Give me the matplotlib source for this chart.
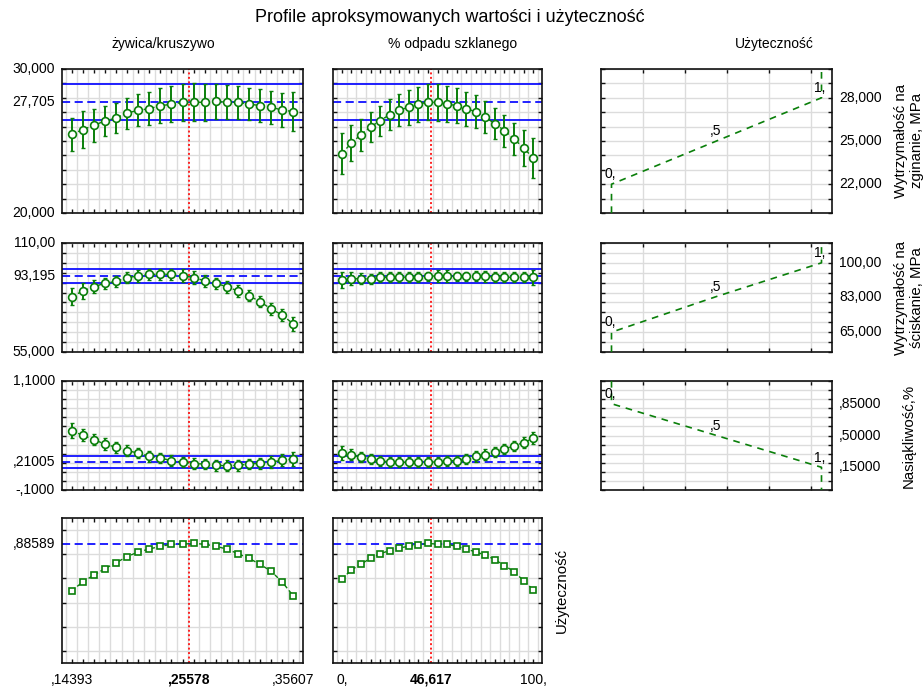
import numpy as np
import matplotlib
matplotlib.use("Agg")
import matplotlib.pyplot as plt

plt.rcParams['font.family'] = ['Liberation Sans', 'DejaVu Sans']

# ---------------------------------------------------------------- data
n_levels = 21
resin_min, resin_max, resin_now = 0.14393, 0.35607, 0.25578
glass_min, glass_max, glass_now = 0.0, 100.0, 46.617
resin_levels = np.linspace(resin_min, resin_max, n_levels)
glass_levels = np.linspace(glass_min, glass_max, n_levels)

# flexural strength, MPa
flex_vs_resin = [25463, 25787, 26088, 26389, 26597, 26944, 27130, 27245, 27454, 27546, 27685,
                 27690, 27690, 27755, 27690, 27685, 27569, 27454, 27338, 27153, 27037]
flex_err_resin = [1157, 1273, 1130, 1065, 1040, 1076, 1123, 1134, 1227, 1250, 1273,
                  1308, 1285, 1215, 1192, 1169, 1134, 1157, 1134, 1203, 1377]
flex_vs_glass = [24120, 24861, 25440, 25972, 26412, 26829, 27153, 27338, 27569, 27685, 27685,
                 27569, 27454, 27245, 27037, 26644, 26204, 25718, 25139, 24514, 23819]
flex_err_glass = [1412, 1238, 1111, 1065, 1053, 1088, 1134, 1204, 1215, 1250, 1273,
                  1273, 1215, 1192, 1157, 1100, 1076, 1100, 1100, 1227, 1412]
flex_now, flex_ci = 27705, 1280

# compressive strength, MPa
comp_vs_resin = [82.92, 85.78, 87.97, 89.65, 90.66, 92.51, 93.35, 94.19, 94.19, 94.19, 93.52,
                 92.51, 90.99, 89.65, 87.97, 85.78, 83.43, 80.40, 76.70, 73.67, 69.13]
comp_err_resin = [4.2, 3.95, 3.36, 2.94, 2.78, 2.78, 2.78, 2.94, 2.94, 2.78, 3.36,
                  3.2, 2.94, 2.69, 3.03, 2.94, 2.94, 2.78, 2.94, 3.03, 3.78]
comp_vs_glass = [91.33, 91.95, 92.0, 91.8, 92.6, 92.7, 92.7, 92.75, 92.8, 93.3, 93.35,
                 93.35, 93.3, 93.3, 93.3, 93.25, 92.75, 92.7, 92.7, 92.68, 92.68]
comp_err_glass = [4.2, 3.28, 2.94, 2.35, 2.52, 2.44, 2.52, 2.52, 2.44, 2.27, 2.78,
                  2.78, 2.27, 2.27, 2.61, 2.69, 2.52, 2.52, 2.52, 2.52, 3.78]
comp_now, comp_ci = 93.195, 3.6

# water absorption, %
abs_vs_resin = [0.553, 0.502, 0.454, 0.406, 0.370, 0.333, 0.307, 0.271, 0.252, 0.223, 0.208,
                0.190, 0.186, 0.171, 0.168, 0.171, 0.186, 0.194, 0.208, 0.227, 0.241]
abs_err_resin = [0.083, 0.068, 0.064, 0.061, 0.061, 0.059, 0.055, 0.059, 0.059, 0.061, 0.059,
                 0.061, 0.057, 0.059, 0.061, 0.059, 0.057, 0.059, 0.062, 0.064, 0.075]
abs_vs_glass = [0.307, 0.289, 0.260, 0.238, 0.223, 0.208, 0.205, 0.205, 0.208, 0.208, 0.208,
                0.223, 0.223, 0.238, 0.271, 0.289, 0.322, 0.351, 0.388, 0.421, 0.469]
abs_err_glass = [0.073, 0.061, 0.057, 0.055, 0.055, 0.051, 0.055, 0.055, 0.051, 0.051, 0.051,
                 0.055, 0.055, 0.055, 0.059, 0.059, 0.055, 0.055, 0.055, 0.061, 0.066]
abs_now, abs_ci = 0.21005, 0.066

# overall desirability
des_vs_resin = [0.499, 0.570, 0.628, 0.681, 0.730, 0.780, 0.819, 0.843, 0.866, 0.882, 0.884,
                0.889, 0.883, 0.866, 0.843, 0.805, 0.766, 0.717, 0.659, 0.570, 0.455]
des_vs_glass = [0.595, 0.670, 0.719, 0.766, 0.805, 0.830, 0.852, 0.866, 0.880, 0.889, 0.884,
                0.882, 0.866, 0.843, 0.819, 0.794, 0.755, 0.706, 0.656, 0.581, 0.507]
des_now = 0.88589

# desirability settings (value for d = 0, d = 0.5, d = 1)
flex_spec = [22000, 25000, 28000]
comp_spec = [65, 83, 100]
abs_spec = [0.85, 0.50, 0.15]
spec_labels = [["22,000", "25,000", "28,000"],
               ["65,000", "83,000", "100,00"],
               [",85000", ",50000", ",15000"]]
d_levels = [0.0, 0.5, 1.0]
d_labels = ["0,", ",5", "1,"]

# axis ranges and tick text
y_ranges = [(20000, 30000, 1000), (55, 110, 5), (-0.1, 1.1, 0.1), (-0.1, 1.1, 0.2)]
y_labels = [["30,000", "27,705", "20,000"],
            ["110,00", "93,195", "55,000"],
            ["1,1000", ",21005", "-,1000"],
            [",88589"]]
resin_tick_labels = [",14393", ",25578", ",35607"]
glass_tick_labels = ["0,", "46,617", "100,"]

title = "Profile aproksymowanych wartości i użyteczność"
col_titles = ["żywica/kruszywo", "% odpadu szklanego", "Użyteczność"]
resp_names = ["Wytrzymałość na\nzginanie, MPa", "Wytrzymałość na\nściskanie, MPa", "Nasiąkliwość,%"]
des_name = "Użyteczność"

# ---------------------------------------------------------------- style
GREEN = "#0a7f0a"
BLUE = "#1010ff"
RED = "#ff2020"
GRID = "#dcdcdc"
FS = 10

W, H = 923, 688
fig = plt.figure(figsize=(W / 100, H / 100), dpi=100)


def px_axes(x0, x1, y0, y1):
    return fig.add_axes([x0 / W, 1 - y1 / H, (x1 - x0) / W, (y1 - y0) / H])


col_px = [(62, 303), (333, 542), (601, 832)]
row_px = [(69, 213), (243, 352), (381, 490), (518, 663)]


def frame(ax):
    for s in ax.spines.values():
        s.set_linewidth(1.2)
        s.set_color("#111111")
    ax.tick_params(which="both", direction="in", top=True, right=True,
                   labelleft=False, labelbottom=False, length=3, width=1, color="#111111")
    ax.set_axisbelow(True)


def y_grid(ax, r):
    lo, hi, step = y_ranges[r]
    if r == 3:
        ticks = np.arange(0.0, 1.0001, step)
    else:
        ticks = np.arange(lo, hi + step / 2, step)
    ax.set_ylim(lo, hi)
    ax.set_yticks(ticks)
    ax.grid(True, which="major", axis="y", color=GRID, lw=1)


def left_label(ax, y, text):
    ax.annotate(text, xy=(0, y), xycoords=("axes fraction", "data"), xytext=(-5, 0),
                textcoords="offset points", ha="right", va="center", fontsize=FS)


def profile_panel(r, c, levels, now, vals, errs, now_val, ci, pad):
    x0, x1 = col_px[c]
    y0, y1 = row_px[r]
    ax = px_axes(x0, x1, y0, y1)
    frame(ax)
    span = levels[-1] - levels[0]
    step = levels[1] - levels[0]
    ax.set_xlim(levels[0] - pad * span, levels[-1] + pad * span)
    ax.set_xticks(levels)
    ax.set_xticks(np.append(levels - step / 2, levels[-1] + step / 2), minor=True)
    ax.tick_params(axis="x", which="minor", length=0)
    ax.grid(True, which="minor", axis="x", color=GRID, lw=1)
    y_grid(ax, r)
    if ci is not None:
        ax.axhline(now_val + ci, color=BLUE, lw=1.3, zorder=2)
        ax.axhline(now_val - ci, color=BLUE, lw=1.3, zorder=2)
    ax.axhline(now_val, color=BLUE, lw=1.3, ls=(0, (4.5, 2.5)), zorder=2)
    ax.axvline(now, color=RED, lw=1.4, ls=(0, (1, 1.3)), zorder=2)
    if errs is not None:
        ax.plot(levels, vals, color=GREEN, lw=1.0, ls=(0, (3, 2)), zorder=3)
        ax.errorbar(levels, vals, yerr=errs, fmt="none", ecolor=GREEN, elinewidth=1.4,
                    capsize=1.6, capthick=1.0, zorder=4)
        ax.plot(levels, vals, ls="none", marker="o", ms=5.6, mfc="white", mec=GREEN,
                mew=1.2, zorder=5)
    else:
        ax.plot(levels, vals, color=GREEN, lw=1.0, ls=(0, (3, 2)), zorder=3)
        ax.plot(levels, vals, ls="none", marker="s", ms=5.0, mfc="white", mec=GREEN,
                mew=1.2, zorder=5)
    return ax


profiles = [
    (flex_vs_resin, flex_err_resin, flex_vs_glass, flex_err_glass, flex_now, flex_ci),
    (comp_vs_resin, comp_err_resin, comp_vs_glass, comp_err_glass, comp_now, comp_ci),
    (abs_vs_resin, abs_err_resin, abs_vs_glass, abs_err_glass, abs_now, abs_ci),
    (des_vs_resin, None, des_vs_glass, None, des_now, None),
]

for r, (vr, er, vg, eg, now_val, ci) in enumerate(profiles):
    axl = profile_panel(r, 0, resin_levels, resin_now, vr, er, now_val, ci, 0.0437)
    axm = profile_panel(r, 1, glass_levels, glass_now, vg, eg, now_val, ci, 0.046)
    lo, hi, _ = y_ranges[r]
    if r < 3:
        for yv, txt in zip([hi, now_val, lo], y_labels[r]):
            left_label(axl, yv, txt)
    else:
        left_label(axl, now_val, y_labels[r][0])
        for ax, xs, labs in ((axl, [resin_min, resin_now, resin_max], resin_tick_labels),
                             (axm, [glass_min, glass_now, glass_max], glass_tick_labels)):
            for k, (xv, txt) in enumerate(zip(xs, labs)):
                ax.annotate(txt, xy=(xv, 0), xycoords=("data", "axes fraction"),
                            xytext=(0, -12), textcoords="offset points", ha="center",
                            va="center", fontsize=FS,
                            fontweight="bold" if k == 1 else "normal")

# desirability functions of each response
specs = [flex_spec, comp_spec, abs_spec]
for r, spec in enumerate(specs):
    x0, x1 = col_px[2]
    y0, y1 = row_px[r]
    ax = px_axes(x0, x1, y0, y1)
    frame(ax)
    ax.set_xlim(-0.05, 1.05)
    ax.set_xticks([0.15, 0.35, 0.55, 0.75, 0.95])
    ax.grid(True, which="major", axis="x", color=GRID, lw=1)
    y_grid(ax, r)
    lo, hi, _ = y_ranges[r]
    start = lo if spec[2] > spec[0] else hi
    end = hi if spec[2] > spec[0] else lo
    ax.plot([0, 0] + d_levels[1:] + [1], [start] + spec + [end], color=GREEN, lw=1.2,
            ls=(0, (4, 3.5)), zorder=3)
    for dv, sv, txt in zip(d_levels, spec, d_labels):
        ax.annotate(txt, xy=(dv, sv), xytext=(-1, 7), textcoords="offset points",
                    ha="center", va="center", fontsize=FS)
    for sv, txt in zip(spec, spec_labels[r]):
        ax.annotate(txt, xy=(1, sv), xycoords=("axes fraction", "data"), xytext=(5, 0),
                    textcoords="offset points", ha="left", va="center", fontsize=FS)
    yc = (y0 + y1) / 2
    fig.text(909 / W, 1 - yc / H, resp_names[r], rotation=90, ha="center", va="center",
             fontsize=FS + 0.8, linespacing=1.15)

# titles
fig.text(450 / W, 1 - 17 / H, title, ha="center", va="center", fontsize=13)
for xc, txt in zip([163, 453, 774], col_titles):
    fig.text(xc / W, 1 - 44 / H, txt, ha="center", va="center", fontsize=FS)
fig.text(562 / W, 1 - 590 / H, des_name, rotation=90, ha="center", va="center",
         fontsize=FS + 0.8)

fig.savefig("out.png", dpi=100, facecolor="white")
